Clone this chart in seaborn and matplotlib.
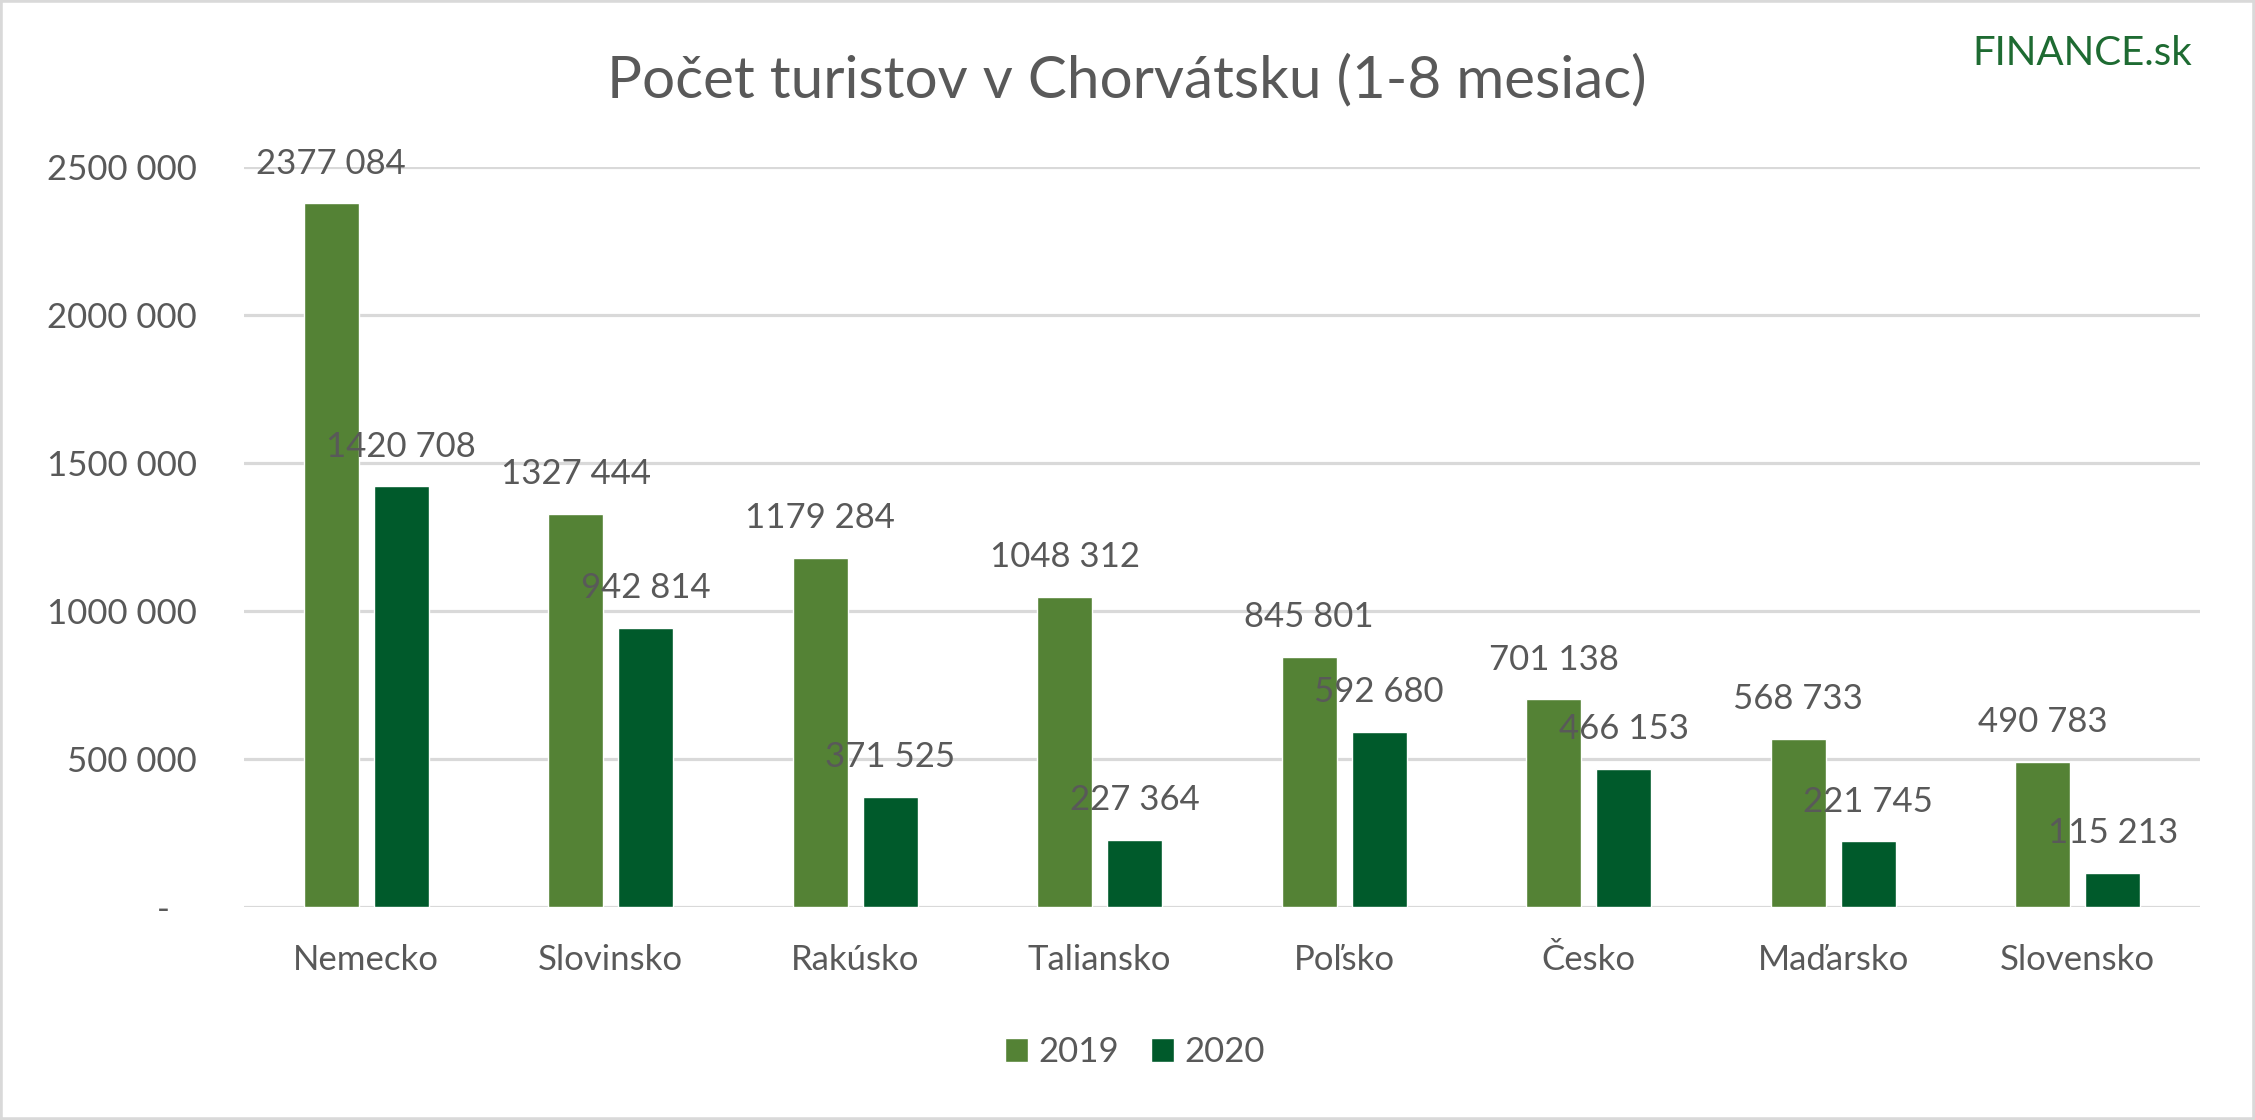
import matplotlib
matplotlib.use("Agg")
import matplotlib.pyplot as plt
import matplotlib.patches as mpatches
import seaborn as sns
import pandas as pd

# ---- data ----
countries = ["Nemecko", "Slovinsko", "Rakúsko", "Taliansko", "Poľsko", "Česko", "Maďarsko", "Slovensko"]
years = ["2019", "2020"]
values_2019 = [2377084, 1327444, 1179284, 1048312, 845801, 701138, 568733, 490783]
values_2020 = [1420708, 942814, 371525, 227364, 592680, 466153, 221745, 115213]
y_ticks = [0, 500000, 1000000, 1500000, 2000000, 2500000]
y_tick_labels = ["-   ", "500 000", "1000 000", "1500 000", "2000 000", "2500 000"]
title = "Počet turistov v Chorvátsku (1-8 mesiac)"
brand = "FINANCE.sk"

colors = {"2019": "#548235", "2020": "#005A2B"}
text_color = "#595959"
grid_color = "#D9D9D9"

sns.set_theme(style="white")
plt.rcParams["font.family"] = ["Lato", "DejaVu Sans"]

df = pd.DataFrame({
    "country": countries * 2,
    "year": [years[0]] * len(countries) + [years[1]] * len(countries),
    "value": values_2019 + values_2020,
})

fig = plt.figure(figsize=(22.55, 11.2), dpi=100)
ax = fig.add_axes([244 / 2255, 1 - 907 / 1120, (2200 - 244) / 2255, (907 - 167) / 1120])

sns.barplot(data=df, x="country", y="value", hue="year", order=countries, hue_order=years,
            palette=colors, width=0.573, gap=0.213, saturation=1, ax=ax, errorbar=None)

ax.set_ylim(0, 2500000)
ax.set_xlim(-0.5, len(countries) - 0.5)
ax.set_yticks(y_ticks)
ax.set_yticklabels(y_tick_labels)
ax.yaxis.grid(True, color=grid_color, linewidth=2.3)
ax.set_axisbelow(True)
for s in ax.spines.values():
    s.set_visible(False)
ax.tick_params(axis="both", length=0, labelsize=25, labelcolor=text_color)
ax.tick_params(axis="y", pad=34)
ax.tick_params(axis="x", pad=27)
ax.set_xlabel("")
ax.set_ylabel("")

def fmt(v):
    return f"{v // 1000} {v % 1000:03d}"

for cont in ax.containers:
    labels = [fmt(int(round(b.get_height()))) for b in cont]
    ax.bar_label(cont, labels=labels, padding=17, fontsize=25, color=text_color)

handles, labels = ax.get_legend_handles_labels()
ax.get_legend().remove()
fig.legend(handles, labels, loc="center", bbox_to_anchor=(1135 / 2255, 1 - 1052 / 1120),
           ncol=2, frameon=False, fontsize=25, labelcolor=text_color,
           handlelength=0.66, handleheight=0.66, handletextpad=0.32, columnspacing=0.9)

fig.text(1127 / 2255, 1 - 97 / 1120, title, ha="center", va="baseline", fontsize=42, color=text_color)
fig.text(2192 / 2255, 1 - 65 / 1120, brand, ha="right", va="baseline", fontsize=29, color="#1E6B32")

fig.patches.append(mpatches.Rectangle((0, 0), 1, 1, transform=fig.transFigure, fill=False,
                                      edgecolor=grid_color, linewidth=4))

fig.savefig("out.png", dpi=100, facecolor="white")
